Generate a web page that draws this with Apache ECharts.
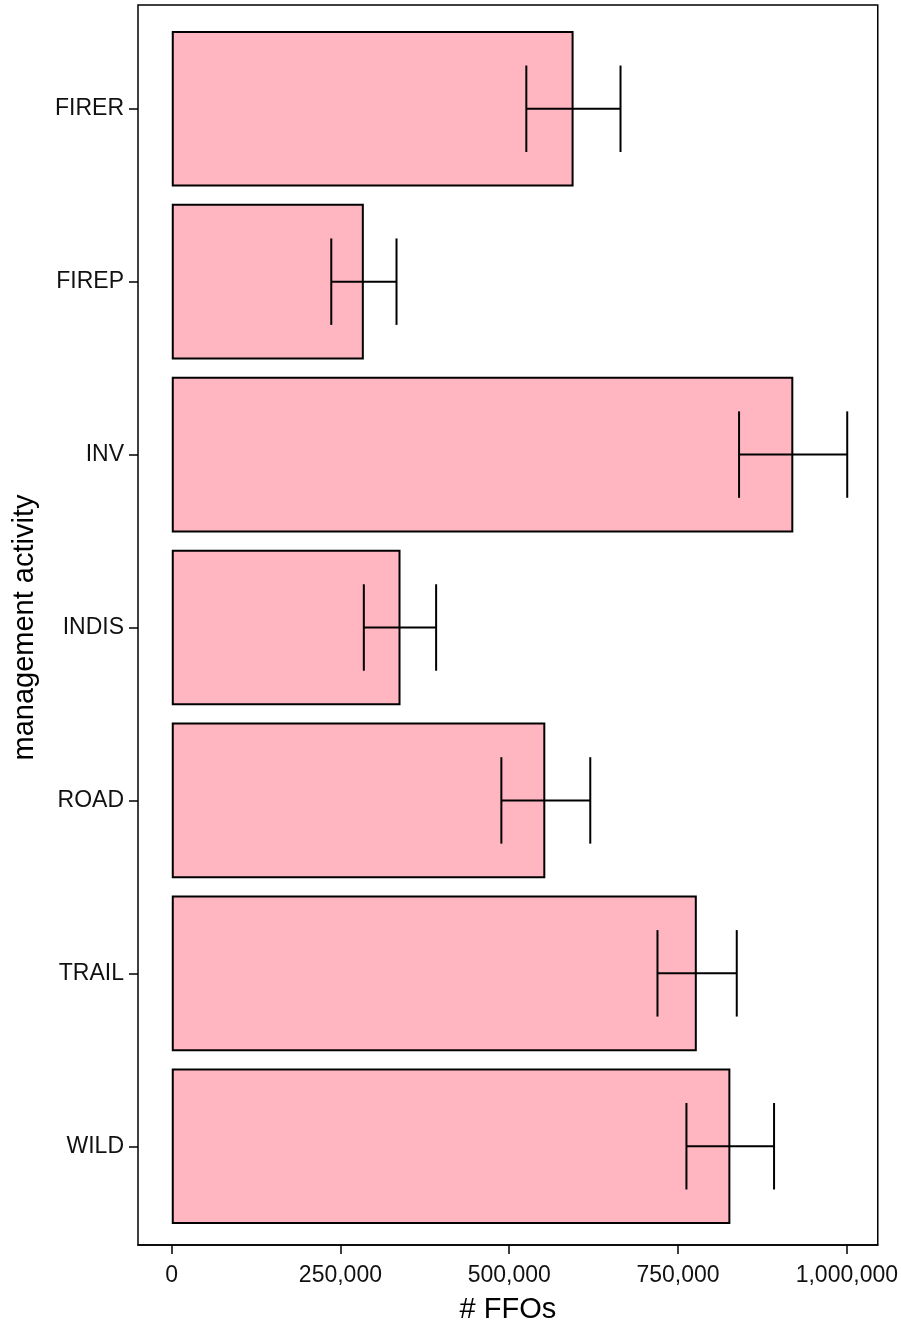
<!DOCTYPE html>
<html><head><meta charset="utf-8">
<script src="https://cdn.jsdelivr.net/npm/echarts@6/dist/echarts.min.js"></script>
<style>html,body{margin:0;padding:0;background:#fff}#c{width:901px;height:1329px}</style>
</head><body><div id="c"></div>
<script>
var categories = ['FIRER','FIREP','INV','INDIS','ROAD','TRAIL','WILD'];
var ffoValues = [592500, 283200, 916500, 337300, 550800, 774200, 823700];
var ffoLower  = [522800, 235200, 836500, 283200, 486000, 716200, 758900];
var ffoUpper  = [661700, 331400, 996000, 389800, 617100, 833100, 888100];
var xTicks = [0, 250000, 500000, 750000, 1000000];

var xMin = -49800, xMax = 1045800;
var L = 138, R = 20, T = 5, B = 79;
var band = (1329 - T - B) / 7.2;
var inset = band * 0.1;
var font = 'Liberation Sans, Arial, sans-serif';

var errData = categories.map(function(c, i){ return [ffoLower[i], ffoUpper[i], i]; });

var chart = echarts.init(document.getElementById('c'), null, {renderer:'canvas'});
chart.setOption({
  animation: false,
  backgroundColor: '#fff',
  grid: [
    {left: L, right: R, top: T, bottom: B, show: true, borderColor: '#000', borderWidth: 1.5, backgroundColor: 'transparent'},
    {left: L, right: R, top: T + inset, bottom: B + inset}
  ],
  xAxis: [
    {type: 'value', gridIndex: 0, min: xMin, max: xMax,
     axisLine: {show: true, onZero: false, lineStyle: {color: '#000', width: 1.5}},
     axisTick: {show: true, length: 9, lineStyle: {color: '#000', width: 1.5}, customValues: xTicks},
     axisLabel: {show: true, color: '#111', fontSize: 23, fontFamily: font, margin: 19, customValues: xTicks,
       formatter: function(v){ return Number(v).toLocaleString('en-US'); }},
     splitLine: {show: false},
     name: '# FFOs', nameLocation: 'middle', nameGap: 50,
     nameTextStyle: {color: '#000', fontSize: 29, fontFamily: font}},
    {type: 'value', gridIndex: 1, min: xMin, max: xMax, show: false}
  ],
  yAxis: [
    {type: 'value', gridIndex: 0, min: 0, max: 1, show: false},
    {type: 'category', gridIndex: 1, data: categories, inverse: true,
     axisLine: {show: false, onZero: false},
     axisTick: {show: true, length: 9, alignWithLabel: true, lineStyle: {color: '#000', width: 1.5}},
     axisLabel: {color: '#111', fontSize: 23, fontFamily: font, margin: 14},
     splitLine: {show: false},
     name: 'management activity', nameLocation: 'middle', nameGap: 99,
     nameTextStyle: {color: '#000', fontSize: 29, fontFamily: font}}
  ],
  series: [
    {type: 'bar', xAxisIndex: 1, yAxisIndex: 1, data: ffoValues, barCategoryGap: '10%',
     itemStyle: {color: '#FFB6C1', borderColor: '#000', borderWidth: 2}, z: 2},
    {type: 'custom', xAxisIndex: 1, yAxisIndex: 1, data: errData, z: 3,
     renderItem: function(params, api){
       var lo = api.coord([api.value(0), api.value(2)]);
       var hi = api.coord([api.value(1), api.value(2)]);
       var h = api.size([0, 1])[1] * 0.25;
       var st = {stroke: '#000', lineWidth: 2};
       return {type: 'group', children: [
         {type: 'line', shape: {x1: lo[0], y1: lo[1], x2: hi[0], y2: hi[1]}, style: st},
         {type: 'line', shape: {x1: lo[0], y1: lo[1]-h, x2: lo[0], y2: lo[1]+h}, style: st},
         {type: 'line', shape: {x1: hi[0], y1: hi[1]-h, x2: hi[0], y2: hi[1]+h}, style: st}
       ]};
     }}
  ]
});
</script></body></html>
